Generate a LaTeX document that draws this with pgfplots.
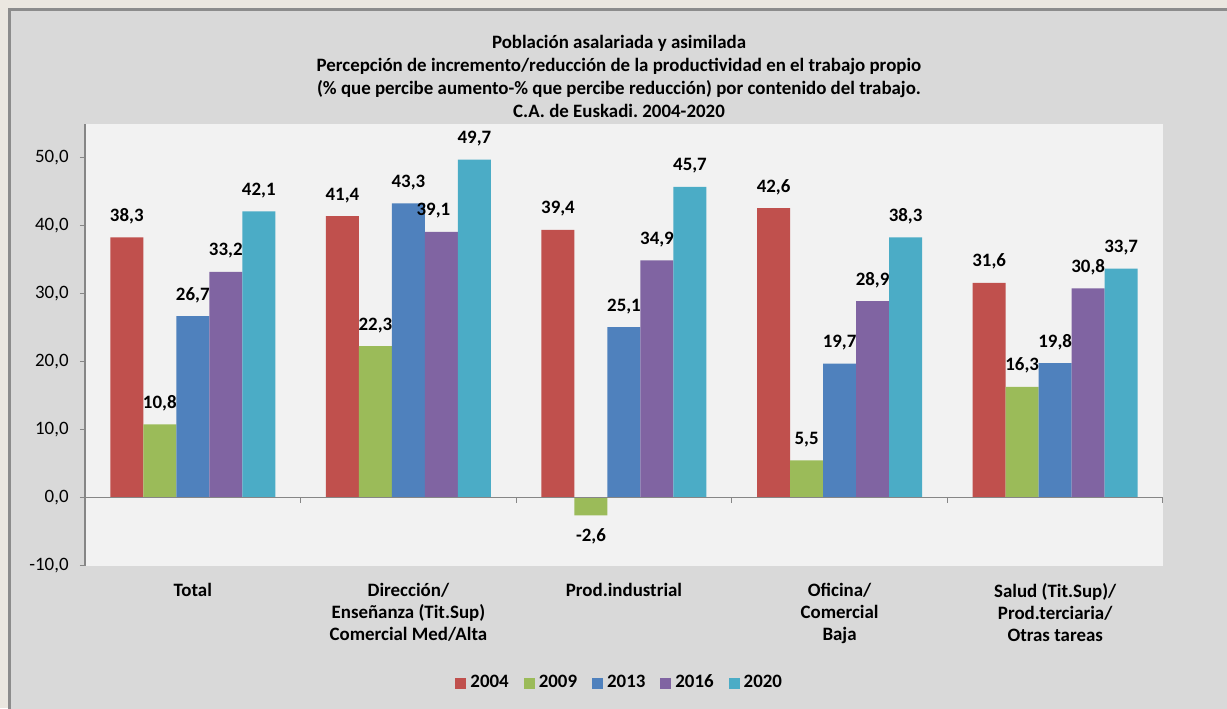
\documentclass[border=0pt]{standalone}
\usepackage{fontspec}
\setmainfont{Carlito}
\usepackage{pgfplots}
\pgfplotsset{compat=1.18}
\definecolor{beige}{HTML}{EBE7E0}
\definecolor{framegray}{HTML}{8C8C8C}
\definecolor{chartbg}{HTML}{D9D9D9}
\definecolor{plotbg}{HTML}{F2F2F2}
\definecolor{axisgray}{HTML}{868686}
\definecolor{cA}{HTML}{C0504D}
\definecolor{cB}{HTML}{9BBB59}
\definecolor{cC}{HTML}{4F81BD}
\definecolor{cD}{HTML}{8064A2}
\definecolor{cE}{HTML}{4BACC6}
\newcommand{\fs}{\fontsize{9.45}{11}\selectfont}
\frenchspacing
\begin{document}
\begin{tikzpicture}
\useasboundingbox (0,0) rectangle (613.5pt,354pt);
\fill[beige] (0,0) rectangle (613.5pt,354pt);
\fill[chartbg] (4.75pt,-5pt) rectangle (620pt,349pt);
\draw[framegray, line width=1.5pt] (4.75pt,-5pt) -- (4.75pt,349pt) -- (620pt,349pt);
\node[align=center, font=\bfseries\fontsize{9.45}{11.5}\selectfont] at (309.5pt,315.75pt)
 {Población asalariada y asimilada\\
  Percepción de incremento/reducción de la productividad en el trabajo propio\\
  (\% que percibe aumento-\% que percibe reducción) por contenido del trabajo.\\
  C.A. de Euskadi. 2004-2020};
\begin{axis}[
  at={(42.5pt,71.15pt)}, anchor=south west,
  scale only axis, width=539pt, height=221pt,
  xmin=-0.5, xmax=4.5, ymin=-10, ymax=55,
  ybar=0pt, bar width=16.5pt,
  axis background/.style={fill=plotbg},
  axis y line*=left, axis x line*=bottom,
  x axis line style={draw=none},
  y axis line style={draw=axisgray, line width=0.6pt},
  ytick={-10,0,10,20,30,40,50},
  ytick style={draw=axisgray, line width=0.6pt},
  tick align=outside, major tick length=2.5pt,
  yticklabel style={font=\fs, inner sep=0pt, xshift=-5.5pt},
  xtick={0,1,2,3,4},
  xtick style={draw=none},
  xticklabels={Total,
    {Dirección/\\Enseñanza (Tit.Sup)\\Comercial Med/Alta},
    Prod.industrial,
    {Oficina/\\Comercial\\Baja},
    {Salud (Tit.Sup)/\\Prod.terciaria/\\Otras tareas}},
  xticklabel style={font=\bfseries\fs, align=center, inner sep=0pt, yshift=-6pt},
  nodes near coords,
  every node near coord/.append style={font=\bfseries\fs, inner ysep=6.5pt, black},
  legend style={at={(rel axis cs:0.497,-0.2654)}, anchor=center, draw=none, fill=none,
    legend columns=5, font=\bfseries\fs,
    /tikz/every even column/.append style={column sep=5.5pt}},
  legend image code/.code={\path[#1, draw=none] (0pt,-2.75pt) rectangle (5.5pt,2.75pt);},
  /pgf/number format/assume math mode=true,
  /pgf/number format/use comma,
  /pgf/number format/fixed,
  /pgf/number format/fixed zerofill,
  /pgf/number format/precision=1,
]
\addplot[fill=cA, draw=none] coordinates {(0,38.3) (1,41.4) (2,39.4) (3,42.6) (4,31.6)};
\addplot[fill=cB, draw=none] coordinates {(0,10.8) (1,22.3) (2,-2.6) (3,5.5) (4,16.3)};
\addplot[fill=cC, draw=none] coordinates {(0,26.7) (1,43.3) (2,25.1) (3,19.7) (4,19.8)};
\addplot[fill=cD, draw=none, coordinate style/.condition={\coordindex==1}{xshift=-4pt}]
  coordinates {(0,33.2) (1,39.1) (2,34.9) (3,28.9) (4,30.8)};
\addplot[fill=cE, draw=none] coordinates {(0,42.1) (1,49.7) (2,45.7) (3,38.3) (4,33.7)};
\legend{2004,2009,2013,2016,2020}
\draw[axisgray, line width=0.6pt] (axis cs:-0.5,0) -- (axis cs:4.5,0);
\pgfplotsinvokeforeach{0.5,1.5,2.5,3.5,4.5}{\draw[axisgray, line width=0.6pt] (axis cs:#1,0) -- ([yshift=-2.5pt]axis cs:#1,0);}
\end{axis}
\end{tikzpicture}
\end{document}
